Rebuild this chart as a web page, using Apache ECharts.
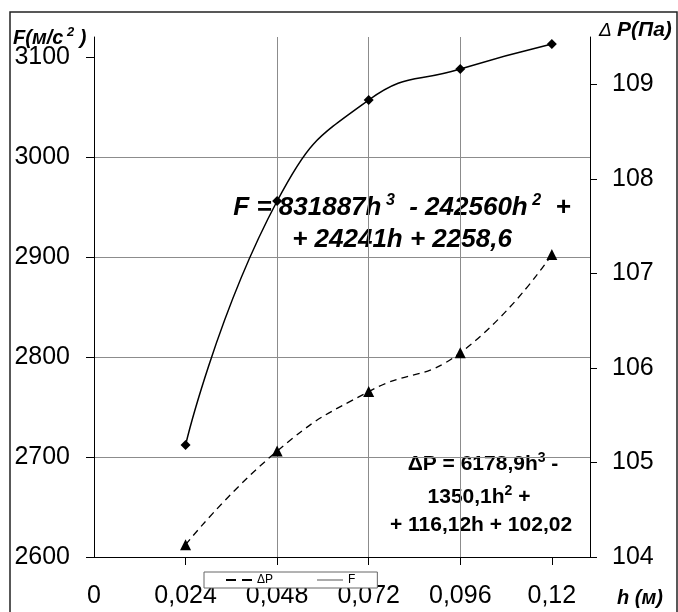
<!DOCTYPE html>
<html>
<head>
<meta charset="utf-8">
<script src="https://cdn.jsdelivr.net/npm/echarts@6/dist/echarts.min.js"></script>
<style>html,body{margin:0;padding:0;background:#fff}#c{width:678px;height:612px}</style>
</head>
<body>
<div id="c"></div>
<script>
const xVals = [0.024, 0.048, 0.072, 0.096, 0.12];
const fVals = [2712, 2956, 3057, 3088, 3113];
const dpVals = [104.13, 105.12, 105.75, 106.16, 107.20];
const xTicks = [0, 0.024, 0.048, 0.072, 0.096, 0.12];
const fTicks = [2600, 2700, 2800, 2900, 3000, 3100];
const dpTicks = [104, 105, 106, 107, 108, 109];
const seriesNames = ['ΔP', 'F'];

const FF = 'Liberation Sans, Arial, sans-serif';
const chart = echarts.init(document.getElementById('c'), null, {renderer: 'canvas'});
const fmt = v => String(+(+v).toFixed(3)).replace('.', ',');
const plain = v => String(Math.round(+v));

const option = {
  animation: false,
  backgroundColor: '#fff',
  grid: {left: 94, right: 88, top: 37, bottom: 55},
  legend: {
    left: 204, top: 572, orient: 'horizontal',
    padding: [2, 22], itemGap: 44, itemWidth: 26, itemHeight: 3,
    backgroundColor: '#fff', borderColor: '#666', borderWidth: 1,
    selectedMode: false,
    textStyle: {fontFamily: FF, fontSize: 12, color: '#000'},
    data: [
      {name: seriesNames[0], icon: 'path://M0,0H10V2H0Z M16,0H26V2H16Z', itemStyle: {color: '#000', borderWidth: 0}},
      {name: seriesNames[1], icon: 'path://M0,0H26V1H0Z', itemStyle: {color: '#555', borderWidth: 0}}
    ]
  },
  xAxis: {
    type: 'value', min: 0, max: 0.13, interval: 0.024,
    axisLine: {show: true, lineStyle: {color: '#000', width: 1}},
    axisTick: {show: true, length: 8, customValues: xTicks.slice(1), lineStyle: {color: '#000'}},
    axisLabel: {customValues: xTicks, formatter: fmt, fontFamily: FF, fontSize: 25, color: '#000', margin: 27},
    splitLine: {show: true, showMinLine: false, showMaxLine: false, lineStyle: {color: '#8c8c8c', width: 1}}
  },
  yAxis: [
    {
      type: 'value', position: 'left', min: 2600, max: 3120, interval: 100,
      axisLine: {show: true, lineStyle: {color: '#000', width: 1}},
      axisTick: {show: true, length: 8, customValues: fTicks, lineStyle: {color: '#000'}},
      axisLabel: {customValues: fTicks, formatter: plain, fontFamily: FF, fontSize: 25, color: '#000', margin: 24},
      splitLine: {show: true, showMinLine: false, showMaxLine: false, lineStyle: {color: '#8c8c8c', width: 1}}
    },
    {
      type: 'value', position: 'right', min: 104, max: 109.5, interval: 1,
      axisLine: {show: true, lineStyle: {color: '#000', width: 1}},
      axisTick: {show: true, length: 7, customValues: dpTicks, lineStyle: {color: '#000'}},
      axisLabel: {customValues: dpTicks, formatter: plain, fontFamily: FF, fontSize: 25, color: '#000', margin: 22},
      splitLine: {show: false}
    }
  ],
  series: [
    {
      name: seriesNames[0], type: 'line', yAxisIndex: 1, smooth: 0.5,
      data: xVals.map((x, i) => [x, dpVals[i]]),
      symbol: 'triangle', symbolSize: 11,
      itemStyle: {color: '#000'},
      lineStyle: {color: '#000', width: 1.3, type: [7, 5]}
    },
    {
      name: seriesNames[1], type: 'line', yAxisIndex: 0, smooth: 0.5,
      data: xVals.map((x, i) => [x, fVals[i]]),
      symbol: 'diamond', symbolSize: 10,
      itemStyle: {color: '#000'},
      lineStyle: {color: '#000', width: 1.5}
    }
  ],
  graphic: [
    {type: 'rect', z: -1, silent: true, shape: {x: 10, y: 12, width: 667, height: 610},
     style: {fill: 'none', stroke: '#222', lineWidth: 1.5}},
    {type: 'text', left: 13, top: 26, style: {
      text: '{m|F(м/с}{s| 2}{m| )}',
      rich: {
        m: {fontFamily: FF, fontStyle: 'italic', fontWeight: 'bold', fontSize: 20, lineHeight: 24, fill: '#000'},
        s: {fontFamily: FF, fontStyle: 'italic', fontWeight: 'bold', fontSize: 13, lineHeight: 13, verticalAlign: 'top', fill: '#000'}
      }}},
    {type: 'text', left: 599, top: 20, style: {
      text: '{d|Δ }{m|P(Па)}',
      rich: {
        d: {fontFamily: FF, fontStyle: 'italic', fontSize: 19, lineHeight: 24, fill: '#000'},
        m: {fontFamily: FF, fontStyle: 'italic', fontWeight: 'bold', fontSize: 21, lineHeight: 24, fill: '#000'}
      }}},
    {type: 'text', left: 617, top: 588, style: {
      text: 'h (м)', fontFamily: FF, fontStyle: 'italic', fontWeight: 'bold', fontSize: 20, fill: '#000'}},
    {type: 'text', x: 402, y: 208, style: {
      text: '{m|F = 831887h}{s| 3}{m|  - 242560h}{s| 2}{m|  +}',
      align: 'center', verticalAlign: 'middle',
      rich: {
        m: {fontFamily: FF, fontStyle: 'italic', fontWeight: 'bold', fontSize: 26, lineHeight: 30, fill: '#000'},
        s: {fontFamily: FF, fontStyle: 'italic', fontWeight: 'bold', fontSize: 16, lineHeight: 14, verticalAlign: 'top', fill: '#000'}
      }}},
    {type: 'text', x: 402, y: 240, style: {
      text: '+ 24241h + 2258,6', align: 'center', verticalAlign: 'middle',
      fontFamily: FF, fontStyle: 'italic', fontWeight: 'bold', fontSize: 26, fill: '#000'}},
    {type: 'text', x: 483, y: 464, style: {
      text: '{m|ΔP = 6178,9h}{s|3}{m| -}',
      align: 'center', verticalAlign: 'middle',
      rich: {
        m: {fontFamily: FF, fontWeight: 'bold', fontSize: 21, lineHeight: 26, fill: '#000'},
        s: {fontFamily: FF, fontWeight: 'bold', fontSize: 14, lineHeight: 12, verticalAlign: 'top', fill: '#000'}
      }}},
    {type: 'text', x: 479, y: 497, style: {
      text: '{m|1350,1h}{s|2}{m| +}',
      align: 'center', verticalAlign: 'middle',
      rich: {
        m: {fontFamily: FF, fontWeight: 'bold', fontSize: 21, lineHeight: 26, fill: '#000'},
        s: {fontFamily: FF, fontWeight: 'bold', fontSize: 14, lineHeight: 12, verticalAlign: 'top', fill: '#000'}
      }}},
    {type: 'text', x: 481, y: 525, style: {
      text: '+ 116,12h + 102,02', align: 'center', verticalAlign: 'middle',
      fontFamily: FF, fontWeight: 'bold', fontSize: 21, fill: '#000'}}
  ]
};
chart.setOption(option);
</script>
</body>
</html>
